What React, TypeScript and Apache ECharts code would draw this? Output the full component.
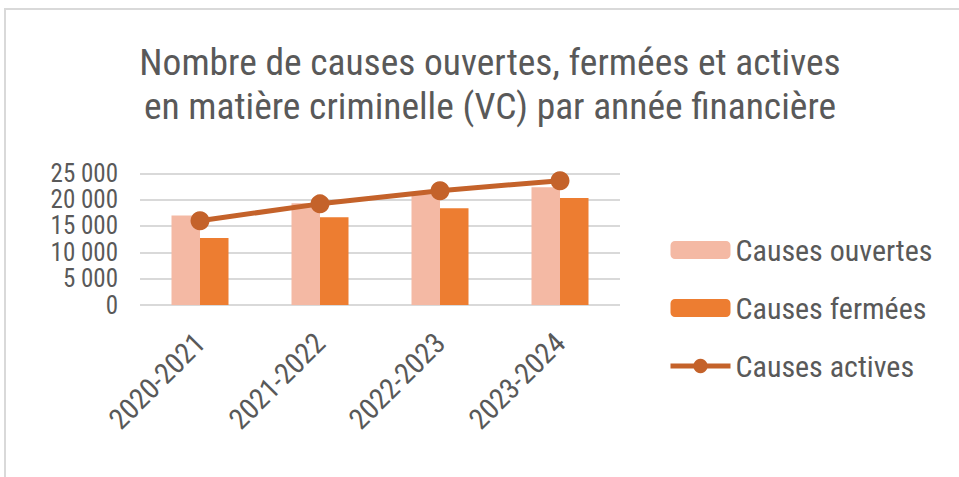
import React, { useEffect, useRef } from "react";
import * as echarts from "echarts";

const years = ["2020-2021", "2021-2022", "2022-2023", "2023-2024"];
const openCases = [17000, 19300, 21000, 22350];
const closedCases = [12700, 16650, 18350, 20300];
const activeCases = [16000, 19200, 21700, 23600];
const seriesNames = ["Causes ouvertes", "Causes fermées", "Causes actives"];
const titleLines = [
  "Nombre de causes ouvertes, fermées et actives",
  "en matière criminelle (VC) par année financière",
];

const FONT = "'Roboto Condensed', 'Liberation Sans Narrow', 'DejaVu Sans Condensed', sans-serif";
const GRAY = "#595959";
const LINE_COLOR = "#C4622A";

function fmt(v: number) {
  return String(v).replace(/\B(?=(\d{3})+(?!\d))/g, " ");
}

export default function App() {
  const ref = useRef<HTMLDivElement>(null);
  useEffect(() => {
    if (!ref.current) return;
    const chart = echarts.init(ref.current, null, { renderer: "svg" });
    chart.setOption({
      animation: false,
      backgroundColor: "#ffffff",
      textStyle: { fontFamily: FONT },
      title: {
        text: titleLines.join("\n"),
        left: 490,
        top: 40,
        padding: 0,
        textAlign: "center",
        textStyle: {
          fontFamily: FONT,
          fontSize: 37.5,
          lineHeight: 44,
          fontWeight: "normal",
          color: GRAY,
        },
      },
      graphic: [
        {
          type: "rect",
          silent: true,
          z: -10,
          shape: { x: 5, y: 9, width: 1100, height: 600 },
          style: { fill: "none", stroke: "#D9D9D9", lineWidth: 2 },
        },
      ],
      legend: {
        orient: "vertical",
        left: 663,
        top: 230,
        itemWidth: 60,
        itemHeight: 18,
        itemGap: 28,
        textStyle: { fontFamily: FONT, fontSize: 30, lineHeight: 30, color: GRAY },
        data: [
          { name: seriesNames[0] },
          { name: seriesNames[1] },
          { name: seriesNames[2], lineStyle: { width: 5, color: LINE_COLOR }, itemStyle: { color: LINE_COLOR } },
        ],
      },
      grid: { left: 140, right: 339, top: 173.3, bottom: 172, containLabel: false },
      xAxis: {
        type: "category",
        data: years,
        axisLine: { show: false },
        axisTick: { show: false },
        axisLabel: {
          rotate: 45,
          margin: 33,
          fontFamily: FONT,
          fontSize: 29,
          color: GRAY,
        },
      },
      yAxis: {
        type: "value",
        min: 0,
        max: 25000,
        interval: 5000,
        axisLine: { show: false },
        axisTick: { show: false },
        splitLine: { lineStyle: { color: "#D9D9D9", width: 2 } },
        axisLabel: {
          margin: 22,
          fontFamily: FONT,
          fontSize: 25,
          color: GRAY,
          formatter: (v: number) => fmt(v),
        },
      },
      series: [
        {
          name: seriesNames[0],
          type: "bar",
          data: openCases,
          barWidth: 28.5,
          barGap: "0%",
          itemStyle: { color: "#F4B9A4" },
        },
        {
          name: seriesNames[1],
          type: "bar",
          data: closedCases,
          barWidth: 28.5,
          barGap: "0%",
          itemStyle: { color: "#ED7D31" },
        },
        {
          name: seriesNames[2],
          type: "line",
          data: activeCases,
          symbol: "circle",
          symbolSize: 19,
          lineStyle: { color: LINE_COLOR, width: 5 },
          itemStyle: { color: LINE_COLOR },
          z: 5,
        },
      ],
    });
    return () => chart.dispose();
  }, []);
  return (
    <div
      ref={ref}
      style={{ position: "fixed", left: 0, top: 0, width: 959, height: 477 }}
    />
  );
}
